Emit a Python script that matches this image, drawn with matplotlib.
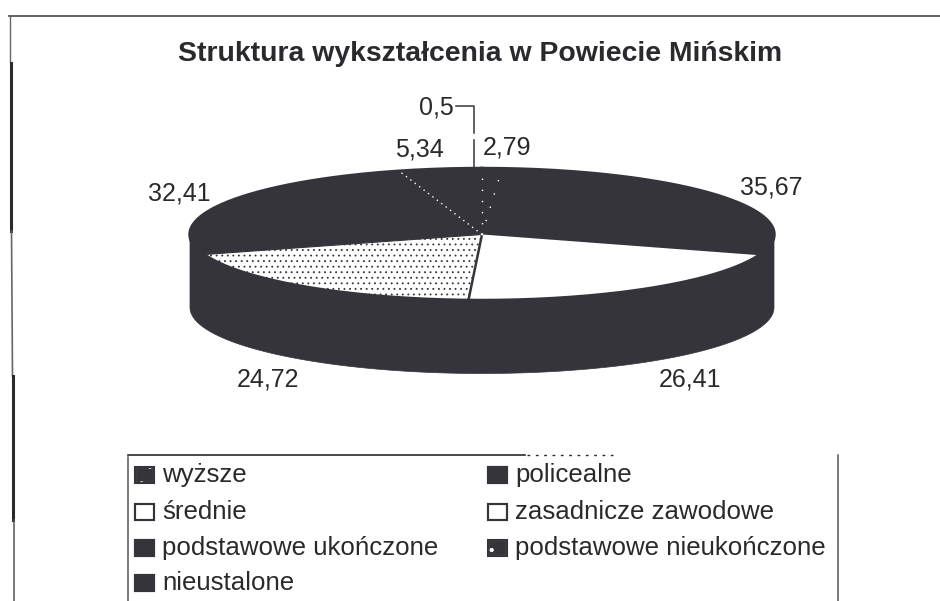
import numpy as np
import matplotlib
matplotlib.use("Agg")
import matplotlib.pyplot as plt
from matplotlib.patches import Polygon

plt.rcParams['font.family'] = ['Liberation Sans', 'DejaVu Sans']
plt.rcParams['hatch.linewidth'] = 0.6

title = "Struktura wykształcenia w Powiecie Mińskim"
categories = ["wyższe", "policealne", "średnie", "zasadnicze zawodowe",
              "podstawowe ukończone", "podstawowe nieukończone", "nieustalone"]
values = [2.79, 35.67, 26.41, 24.72, 32.41, 5.34, 0.5]
value_labels = ["2,79", "35,67", "26,41", "24,72", "32,41", "5,34", "0,5"]

INK = "#35343a"
TXT = "#2a2a2e"
W, H = 940, 601
fig = plt.figure(figsize=(W / 100, H / 100), dpi=100, facecolor="white")
ax = fig.add_axes([0, 0, 1, 1])
ax.set_xlim(0, W)
ax.set_ylim(H, 0)
ax.axis("off")

cx, cy, rx, ry, depth = 482, 234.5, 292, 66, 73
styles = [
    dict(facecolor=INK, edgecolor=INK, lw=0.8),
    dict(facecolor=INK, edgecolor=INK, lw=0.8),
    dict(facecolor="white", edgecolor="white", lw=0),
    dict(facecolor="white", edgecolor=INK, hatch="...", lw=0),
    dict(facecolor=INK, edgecolor=INK, lw=0.8),
    dict(facecolor=INK, edgecolor=INK, lw=0.8),
    dict(facecolor=INK, edgecolor=INK, lw=0.8),
]

def point(theta):
    return cx + rx * np.sin(theta), cy - ry * np.cos(theta)

# side wall
th = np.linspace(np.pi / 2, 3 * np.pi / 2, 200)
xs, ys = point(th)
wall = np.column_stack([np.r_[xs, xs[::-1]], np.r_[ys, ys[::-1] + depth]])
ax.add_patch(Polygon(wall, closed=True, facecolor=INK, edgecolor=INK, lw=0.5, zorder=1))

# top face, slices clockwise from 12 o'clock
edges = np.cumsum([0] + values) / sum(values) * 2 * np.pi
for a, b, st in zip(edges[:-1], edges[1:], styles):
    t = np.linspace(a, b, 120)
    x, y = point(t)
    poly = np.column_stack([np.r_[cx, x], np.r_[cy, y]])
    ax.add_patch(Polygon(poly, closed=True, zorder=2, **st))

# outline of the top face
ot = np.linspace(0, 2 * np.pi, 400)
ox, oy = point(ot)
ax.plot(ox, oy, color=INK, lw=2.5, zorder=3)

# boundary between white and dotted slice
bx, by = point(edges[3])
ax.plot([cx, bx], [cy, by], color=INK, lw=1.8, zorder=3)
# dotted light boundaries of the small slices
for e, pat in ((edges[5], (1, 3)), (edges[0], (1, 7)), (edges[1] / 2, (1, 9))):
    bx, by = point(e)
    ax.plot([cx, bx], [cy, by], color="white", lw=1.0, ls=(0, pat), zorder=3)

# labels
ax.text(480, 54, title, ha="center", va="center", fontsize=20.4, fontweight="bold", color=TXT)
label_pos = [(507, 147), (771, 187), (690, 380), (268, 379), (179, 193), (419, 150), (436, 107)]
for (lx, ly), s in zip(label_pos, value_labels):
    ax.text(lx, ly, s, ha="center", va="center", fontsize=18, color=TXT)
ax.plot([456, 474, 474], [106, 106, 133], color=INK, lw=1.1, zorder=4)
ax.plot([474, 474], [140, 168], color=INK, lw=1.1, zorder=4)

# frame
ax.plot([9, 940], [16, 16], color="#55555a", lw=1.3)
ax.plot([10, 10], [16, 62], color="#66666a", lw=1.0)
ax.plot([11, 11], [63, 231], color="#2a2a2e", lw=2.2)
ax.plot([11.5, 12.5], [231, 376], color="#66666a", lw=1.2)
ax.plot([13, 13], [376, 520], color="#2a2a2e", lw=2.2)
ax.plot([14, 14], [520, 601], color="#55555a", lw=1.1)

# legend box
ax.plot([128, 525], [455, 455], color="#2a2a2e", lw=1.2)
ax.plot([527, 613], [455, 455], color="#2a2a2e", lw=1.0, ls=(0, (2, 4)))
ax.plot([128, 128], [457, 601], color="#55555a", lw=1.1)
ax.plot([838, 838], [455, 601], color="#55555a", lw=1.1)

leg_x = [135, 488]
leg_y = [475, 512, 548, 583]
txt_x = [162, 515]
swatch_hatch = [".", None, None, None, None, ".", None]
swatch_fill = [INK, INK, "white", "white", INK, INK, INK]
for i, (name, fc, hs) in enumerate(zip(categories, swatch_fill, swatch_hatch)):
    c, r = i % 2, i // 2
    x0, y0 = leg_x[c], leg_y[r]
    ax.add_patch(plt.Rectangle((x0, y0 - 8), 19, 16, lw=1.5, facecolor=fc,
                               edgecolor="white" if hs else INK, hatch=hs))
    ax.add_patch(plt.Rectangle((x0, y0 - 8), 19, 16, lw=1.5, facecolor="none", edgecolor=INK))
    ax.text(txt_x[c], y0, name, ha="left", va="center", fontsize=18.6, color=TXT)

fig.savefig("out.png", dpi=100)
